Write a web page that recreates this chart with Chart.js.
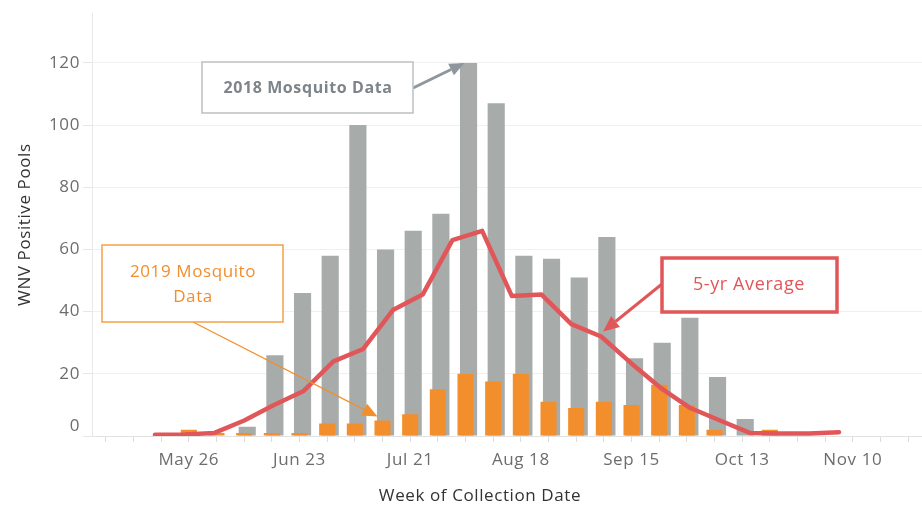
<!DOCTYPE html>
<html>
<head>
<meta charset="utf-8">
<script src="https://cdn.jsdelivr.net/npm/chart.js@4.4.1/dist/chart.umd.min.js"></script>
<style>
  body { margin: 0; background: #fff; }
  #contenedor { width: 922px; height: 507px; }
</style>
</head>
<body>
<div id="contenedor"><canvas id="grafico"></canvas></div>
<script>
// semanas de recoleccion (mayo 5 a nov 24)
const semanas = ['May 5', 'May 12', 'May 19', 'May 26', 'Jun 2', 'Jun 9', 'Jun 16', 'Jun 23', 'Jun 30',
    'Jul 7', 'Jul 14', 'Jul 21', 'Jul 28', 'Aug 4', 'Aug 11', 'Aug 18', 'Aug 25', 'Sep 1', 'Sep 8',
    'Sep 15', 'Sep 22', 'Sep 29', 'Oct 6', 'Oct 13', 'Oct 20', 'Oct 27', 'Nov 3', 'Nov 10', 'Nov 17', 'Nov 24'];

const datos2018 = [0, 0, 0, 0, 0, 3, 26, 46, 58, 100, 60, 66, 71.5, 120, 107, 58, 57, 51, 64,
    25, 30, 38, 19, 5.5, 0, 0, 0, 0, 0, 0];

const datos2019 = [0, 0, 0, 2, 1, 1, 1, 1, 4, 4, 5, 7, 15, 20, 17.5, 20, 11, 9, 11,
    10, 16.5, 10, 2, 0, 2, 0, 0, 0, 0, 0];

// promedio de 5 anios (puntos semanales, empiezan a mediados de mayo)
const promedio5 = [0.4, 0.5, 1, 5, 10, 14.5, 24, 28, 40.5, 45.5, 63, 66, 45, 45.5, 36, 32,
    23.5, 15.5, 9, 5, 1, 0.8, 0.8, 1.2];

const ticksY = [0, 20, 40, 60, 80, 100, 120];

const colorGris = '#a7acab';
const colorNaranja = '#f28e2b';
const colorRojo = '#e15759';

function flecha(ctx, x1, y1, x2, y2, color, ancho, largo, base) {
    const ang = Math.atan2(y2 - y1, x2 - x1);
    const xb = x2 - Math.cos(ang) * largo;
    const yb = y2 - Math.sin(ang) * largo;
    ctx.save();
    ctx.strokeStyle = color;
    ctx.fillStyle = color;
    ctx.lineWidth = ancho;
    ctx.beginPath();
    ctx.moveTo(x1, y1);
    ctx.lineTo(xb, yb);
    ctx.stroke();
    ctx.beginPath();
    ctx.moveTo(x2, y2);
    ctx.lineTo(xb + Math.sin(ang) * base / 2, yb - Math.cos(ang) * base / 2);
    ctx.lineTo(xb - Math.sin(ang) * base / 2, yb + Math.cos(ang) * base / 2);
    ctx.closePath();
    ctx.fill();
    ctx.restore();
}

function caja(ctx, x, y, w, h, borde, ancho) {
    ctx.save();
    ctx.fillStyle = '#ffffff';
    ctx.fillRect(x, y, w, h);
    ctx.strokeStyle = borde;
    ctx.lineWidth = ancho;
    ctx.strokeRect(x, y, w, h);
    ctx.restore();
}

function texto(ctx, t, x, y, fuente, color, alinear) {
    ctx.save();
    ctx.font = fuente;
    ctx.fillStyle = color;
    ctx.textAlign = alinear || 'center';
    ctx.textBaseline = 'middle';
    ctx.fillText(t, x, y);
    ctx.restore();
}

const anotaciones = {
    id: 'anotaciones',
    beforeDraw(chart) {
        chart.ctx.letterSpacing = '0.6px';
    },
    afterDatasetsDraw(chart) {
        const ctx = chart.ctx;
        const ejeX = chart.scales.x;
        const ejeG = chart.scales.xg;
        const ejeL = chart.scales.xl;
        const ejeY = chart.scales.y;

        // 2018
        const pico = datos2018.indexOf(Math.max(...datos2018));
        flecha(ctx, 413, 88, ejeG.getPixelForValue(pico) - 4, ejeY.getPixelForValue(datos2018[pico]),
            '#8d979d', 3, 15, 13);
        caja(ctx, 202, 62, 211, 51, '#bcc1c3', 1.5);
        texto(ctx, '2018 Mosquito Data', 308, 88, 'bold 16px "Open Sans"', '#7d858a');

        // 2019
        const iJul14 = semanas.indexOf('Jul 14');
        flecha(ctx, 193, 322, ejeX.getPixelForValue(iJul14) - 5, ejeY.getPixelForValue(datos2019[iJul14]) - 4,
            colorNaranja, 1.2, 15, 13);
        caja(ctx, 102, 245, 181, 77, '#f5a048', 1.5);
        texto(ctx, '2019 Mosquito', 193, 272, '17px "Open Sans"', colorNaranja);
        texto(ctx, 'Data', 193, 297, '17px "Open Sans"', colorNaranja);

        // promedio
        flecha(ctx, 662, 284, ejeL.getPixelForValue(15) + 2, ejeY.getPixelForValue(promedio5[15]) - 5,
            colorRojo, 3, 16, 14);
        caja(ctx, 662, 258, 175, 54, colorRojo, 3.5);
        texto(ctx, '5-yr Average', 749, 285, '18px "Open Sans"', colorRojo);

        // etiqueta 0 (tableau la sube un poco)
        texto(ctx, String(ticksY[0]), 80, ejeY.getPixelForValue(0) - 10, '17px "Open Sans"', '#6d6d6d', 'right');

        // titulo eje x
        texto(ctx, 'Week of Collection Date', 480, 496, '17px "Open Sans"', '#333333');
    }
};

new Chart(document.getElementById('grafico'), {
    type: 'bar',
    data: {
        labels: semanas,
        datasets: [
            {
                type: 'line',
                label: '5-yr Average',
                data: promedio5.map((v, i) => ({ x: i, y: v })),
                xAxisID: 'xl',
                borderColor: colorRojo,
                borderWidth: 4.5,
                pointRadius: 0,
                tension: 0,
                borderJoinStyle: 'round',
                borderCapStyle: 'round',
                order: 0
            },
            {
                label: '2019',
                data: datos2019,
                xAxisID: 'x',
                backgroundColor: colorNaranja,
                categoryPercentage: 1,
                barPercentage: 0.58,
                grouped: false,
                order: 1
            },
            {
                label: '2018',
                data: datos2018.map((v, i) => ({ x: i, y: v })),
                xAxisID: 'xg',
                backgroundColor: colorGris,
                categoryPercentage: 1,
                barPercentage: 0.62,
                grouped: false,
                order: 2
            }
        ]
    },
    plugins: [anotaciones],
    options: {
        responsive: true,
        maintainAspectRatio: false,
        animation: false,
        layout: { padding: { top: 1, right: 0, bottom: 0, left: 0 } },
        plugins: {
            legend: { display: false },
            tooltip: { enabled: false }
        },
        scales: {
            x: {
                type: 'category',
                offset: true,
                grid: { drawOnChartArea: false, offset: false, tickLength: 6, color: '#dddddd' },
                border: { display: true, color: '#e2e2e2' },
                ticks: {
                    autoSkip: false,
                    maxRotation: 0,
                    padding: 8,
                    color: '#6d6d6d',
                    font: { family: 'Open Sans', size: 17 },
                    callback: (v, i) => (i % 4 === 3 ? semanas[i] : '')
                },
                afterFit: (eje) => { eje.height = 71; }
            },
            xg: {
                type: 'linear',
                display: false,
                offset: false,
                min: -0.61,
                max: 29.39
            },
            xl: {
                type: 'linear',
                display: false,
                offset: false,
                min: -2.118,
                max: 25.79
            },
            y: {
                min: 0,
                max: 136,
                afterBuildTicks: (eje) => {
                    eje.ticks = ticksY.map(v => ({ value: v }));
                },
                grid: { color: '#f0f0f0', tickColor: '#e6e6e6', tickLength: 9 },
                border: { display: true, color: '#e8e8e8' },
                ticks: {
                    padding: 3,
                    color: '#6d6d6d',
                    font: { family: 'Open Sans', size: 17 },
                    callback: (v) => (v === 0 ? '' : v)
                },
                title: {
                    display: true,
                    text: 'WNV Positive Pools',
                    color: '#333333',
                    font: { family: 'Open Sans', size: 17 },
                    padding: { top: 15, bottom: 0 }
                },
                afterFit: (eje) => { eje.width = 92; }
            }
        }
    }
});
</script>
</body>
</html>
